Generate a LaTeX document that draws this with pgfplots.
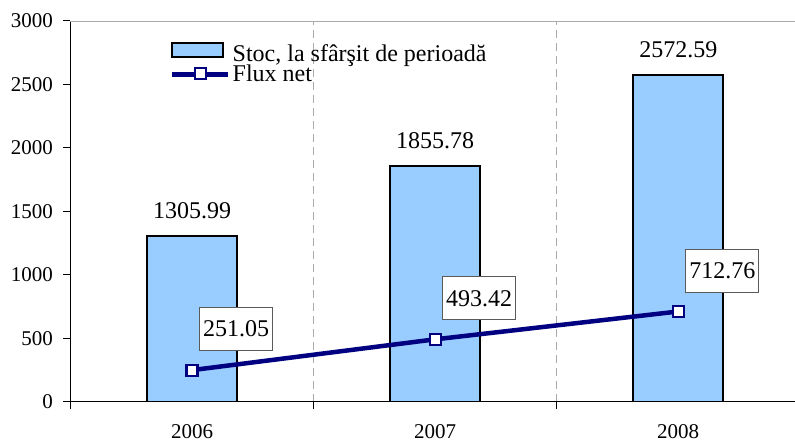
\documentclass[border=0pt]{standalone}
\usepackage{pgfplots}
\pgfplotsset{compat=1.18}
\usepackage{fontspec}
\setmainfont{Liberation Serif}

\definecolor{barblue}{RGB}{153,204,255}
\definecolor{navyline}{RGB}{0,0,128}
\definecolor{gridgray}{RGB}{170,170,170}
\definecolor{boxgray}{RGB}{90,90,90}

\begin{document}
\begin{tikzpicture}
\useasboundingbox (-70.5pt,-39pt) rectangle (724.5pt,402pt);
\begin{axis}[
    at={(0pt,0pt)}, anchor=south west,
    scale only axis,
    width=724.5pt, height=381pt,
    xmin=-0.5, xmax=2.48,
    ymin=0, ymax=3000,
    axis x line*=bottom,
    axis y line*=left,
    axis line style={black, line width=1pt},
    /pgf/number format/assume math mode=true,
    /pgf/number format/1000 sep={},
    tick label style={font=\fontsize{21}{24}\selectfont},
    % ticks at the category borders, year names moved to the middle
    xtick={-0.5,0.5,1.5},
    xticklabels={2006,2007,2008},
    xticklabel style={anchor=base, xshift=121.5pt, yshift=-29.5pt, inner sep=0pt},
    xmajorgrids=true,
    major grid style={gridgray, line width=0.8pt, dash pattern=on 8pt off 5pt},
    ytick={0,500,...,3000},
    yticklabel style={anchor=east, inner sep=0pt, xshift=-10.5pt},
    tick align=outside,
    major tick length=7pt,
    tick style={black, line width=1pt},
    extra y ticks={3000},
    extra y tick labels={},
    extra y tick style={ymajorgrids=true, major grid style={solid, gridgray, line width=0.8pt}},
    legend style={
        at={(0.1373,0.946)}, anchor=north west,
        draw=none, fill=none, inner sep=0pt,
        font=\fontsize{24}{26}\selectfont,
        row sep=1.5pt,
        nodes={inner sep=0pt, text height=15pt, text depth=4pt},
        /tikz/every odd column/.style={column sep=2pt},
    },
    legend cell align=left,
]
\addplot[
    ybar, bar width=90pt,
    fill=barblue, draw=black, line width=2pt,
    nodes near coords={\pgfmathprintnumber[fixed, fixed zerofill, precision=2]{\pgfplotspointmeta}},
    every node near coord/.append style={anchor=base, yshift=18pt, text=black,
        font=\fontsize{24}{26}\selectfont},
    legend image code/.code={\draw[fill=barblue, draw=black, line width=2pt] (0pt,-1pt) rectangle (51pt,13pt);},
] coordinates {(0,1305.99) (1,1855.78) (2,2572.59)};
\addlegendentry{Stoc, la sfârşit de perioadă}

\addplot[
    sharp plot, navyline, line width=4.5pt,
    mark=square*, mark size=5.5pt,
    mark options={fill=white, draw=navyline, line width=2.2pt, solid},
    nodes near coords={\pgfmathprintnumber[fixed, fixed zerofill, precision=2]{\pgfplotspointmeta}},
    every node near coord/.append style={anchor=center, xshift=44pt, yshift=41pt,
        fill=white, draw=boxgray, line width=0.8pt, text=black,
        inner xsep=3.5pt, minimum height=43pt,
        font=\fontsize{24}{26}\selectfont},
    legend image code/.code={\draw[navyline, line width=4.5pt] (0pt,2pt) -- (56pt,2pt);
        \draw[fill=white, draw=navyline, line width=2.2pt] (22.5pt,-3pt) rectangle (33.5pt,8pt);},
] coordinates {(0,251.05) (1,493.42) (2,712.76)};
\addlegendentry{Flux net}
\end{axis}
\end{tikzpicture}
\end{document}
